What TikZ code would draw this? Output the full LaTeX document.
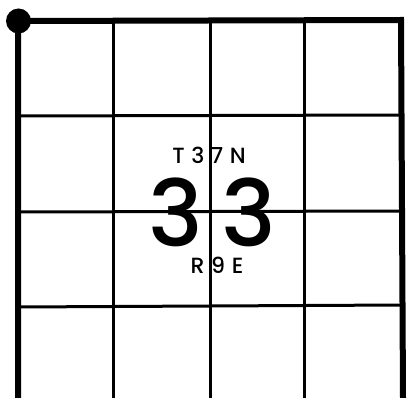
\documentclass[tikz,border=0pt]{standalone}
\usepackage{fontspec}
\setmainfont{Poppins}
\newfontfamily\labfont[LetterSpace=30]{Poppins Medium}
\newfontfamily\bigfont[LetterSpace=20]{Poppins Medium}
\begin{document}
\begin{tikzpicture}[x=1pt,y=-1pt,
  outer/.style={line width=6pt},
  inner/.style={line width=3pt},
  lab/.style={inner sep=0pt,font=\labfont\fontsize{22}{22}\selectfont},
  big/.style={inner sep=0pt,font=\bigfont\fontsize{92}{92}\selectfont}]
\useasboundingbox (0,0) rectangle (412,398);
% interior grid
\draw[inner] (113,21) -- (113,398);
\draw[inner] (210,21) -- (210,398);
\draw[inner] (304,21) -- (304,398);
\draw[inner] (18,116) -- (402,115);
\draw[inner] (18,212) -- (402,211);
\draw[inner] (18,307) -- (402,305);
% outer border
\draw[outer,line cap=rect] (18,398) -- (18,21) -- (401,20) -- (403,398);
\fill (18.5,21) circle[radius=12.5pt];
% labels
\node[lab] (twp) at (209,155) {T37N};
\node[big] (sec) at (212,212) {33};
\node[lab] (rng) at (217,265) {R9E};
\end{tikzpicture}
\end{document}
